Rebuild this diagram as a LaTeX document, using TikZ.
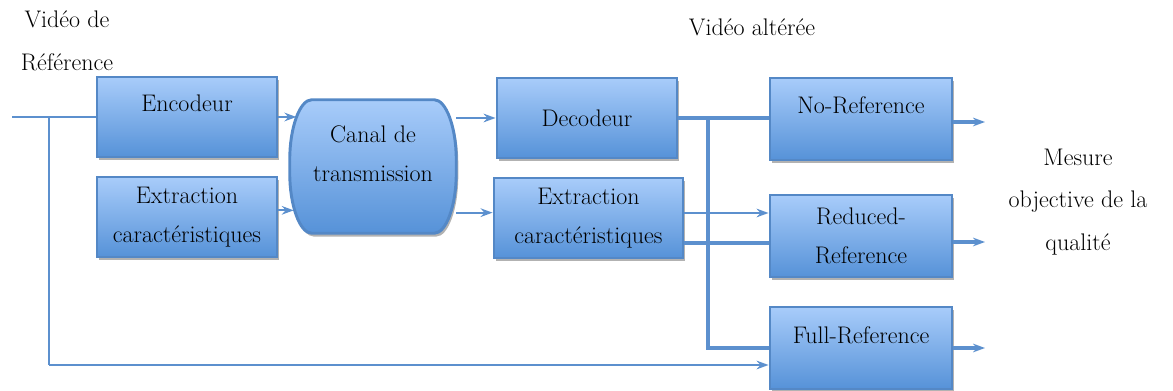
\documentclass[tikz,border=0pt]{standalone}
\usetikzlibrary{arrows.meta,shadows,backgrounds}

\definecolor{boxtop}{RGB}{168,204,250}
\definecolor{boxbot}{RGB}{86,146,216}
\definecolor{boxedge}{RGB}{84,136,198}
\definecolor{wire}{RGB}{92,144,206}

\tikzset{bloc/.style={rectangle,inner sep=0pt,top color=boxtop,bottom color=boxbot,
    draw=boxedge,line width=2.2pt,minimum width=135pt,minimum height=60pt,align=center,
    drop shadow={shadow xshift=1.5pt,shadow yshift=-2.5pt,opacity=0.3,fill=black}}}
\tikzset{hautbloc/.style={bloc,text height=12.5pt,text depth=20pt}}
\tikzset{wirestyle/.style={draw=wire,line width=2pt}}
\tikzset{flow/.style={wirestyle,line width=1.6pt,-{Stealth[length=9pt,width=6.5pt,inset=3pt]}}}

\begin{document}
\begin{tikzpicture}[x=0.75pt,y=-0.75pt,font=\fontsize{18}{29}\selectfont]
        \useasboundingbox (0,0) rectangle (1173,391);
        % labels
        \node[align=center,font=\fontsize{18}{32.5}\selectfont] (ref) at (67,41) {Vidéo de\\Référence};
        \node (alt) at (752,27) {Vidéo altérée};
        \node[align=center,font=\fontsize{18}{32}\selectfont] (mesure) at (1078,202) {Mesure\\objective de la\\qualité};

        % the blocks
        \node[hautbloc] (enc) at (187,117) {Encodeur};
        \node[bloc] (ext1) at (187,217) {Extraction\\caractéristiques};
        \node[rectangle,inner sep=0pt,align=center,minimum width=124.5pt,minimum height=99.75pt,
            text depth=19pt] (canal) at (373,166.5) {Canal de\\transmission};
        % the channel (bulging sides)
        \begin{scope}[on background layer]
        \path[top color=boxtop,bottom color=boxbot,draw=boxedge,line width=2.2pt,
            drop shadow={shadow xshift=1.5pt,shadow yshift=-2.5pt,opacity=0.3,fill=black}]
            ([shift={(22,0)}]canal.north west) -- ([shift={(-22,0)}]canal.north east)
            .. controls ([shift={(-10,0)}]canal.north east) and ([shift={(0,28)}]canal.north east) .. ([shift={(0,60)}]canal.north east)
            -- ([shift={(0,-60)}]canal.south east)
            .. controls ([shift={(0,-28)}]canal.south east) and ([shift={(-10,0)}]canal.south east) .. ([shift={(-22,0)}]canal.south east)
            -- ([shift={(22,0)}]canal.south west)
            .. controls ([shift={(10,0)}]canal.south west) and ([shift={(0,-28)}]canal.south west) .. ([shift={(0,-60)}]canal.south west)
            -- ([shift={(0,60)}]canal.north west)
            .. controls ([shift={(0,28)}]canal.north west) and ([shift={(10,0)}]canal.north west) .. cycle;
        \end{scope}
        \node[bloc] (dec) at (587,118) {Decodeur};
        \node[bloc,minimum width=141.75pt] (ext2) at (588.5,218) {Extraction\\caractéristiques};
        \node[hautbloc,minimum width=136.5pt,minimum height=61.5pt] (nr) at (861,119) {No-Reference};
        \node[bloc,minimum width=136.5pt,minimum height=61.5pt] (rr) at (861,236) {Reduced-\\Reference};
        \node[hautbloc,minimum width=136.5pt,minimum height=61.5pt] (fr) at (861,348) {Full-Reference};

        % free ends and branch points
        \coordinate (src) at (12,117);
        \coordinate (tap) at (49,117);
        \coordinate (bot) at (49,365);
        \coordinate (tapdec) at (708,118);
        \coordinate (outnr) at (985,122);
        \coordinate (outrr) at (985,242);
        \coordinate (outfr) at (985,348);

        % reference path
        \draw[wirestyle] (src) -- (enc.west);
        \draw[wirestyle,line width=1.6pt] (tap) -- (bot);
        \draw[flow] (bot) -- (bot -| fr.west);
        % into and out of the channel
        \draw[flow] (enc.east) -- ([xshift=5pt]enc.east -| canal.west);
        \draw[flow] ([yshift=5pt]ext1.east) -- ([xshift=3pt,yshift=5pt]ext1.east -| canal.west);
        \draw[flow] (canal.east |- dec.west) -- (dec.west);
        \draw[flow] ([yshift=4pt]canal.east |- ext2.west) -- ([yshift=4pt]ext2.west);
        % decoded video to the metrics
        \draw[wirestyle,line width=2.4pt] (dec.east) -- (dec.east -| nr.west);
        \draw[wirestyle,line width=2.4pt] (tapdec) |- (fr.west);
        \draw[flow] ([yshift=3.75pt]ext2.east) -- ([yshift=3.75pt]ext2.east -| rr.west);
        \draw[wirestyle,line width=2.4pt] ([yshift=-18.75pt]ext2.east) -- ([yshift=-18.75pt]ext2.east -| rr.west);
        % outputs
        \draw[flow,line width=2.4pt] (outnr -| nr.east) -- (outnr);
        \draw[flow,line width=2.4pt] (outrr -| rr.east) -- (outrr);
        \draw[flow,line width=2.4pt] (outfr -| fr.east) -- (outfr);
\end{tikzpicture}
\end{document}
